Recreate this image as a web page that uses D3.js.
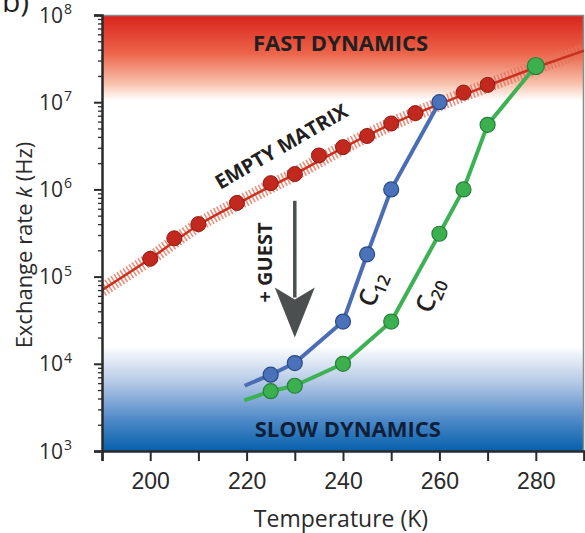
<!DOCTYPE html>
<html>
<head>
<meta charset="utf-8">
<script src="https://cdn.jsdelivr.net/npm/d3@7"></script>
<style>
  body { margin: 0; background: #fff; }
  svg { display: block; font-family: "Open Sans", sans-serif; }
  .axis path, .axis line { stroke: #2a2a2a; }
  .axis text { fill: #2a2a2a; }
</style>
</head>
<body>
<div id="chart"></div>
<script>
// data (temperature in K, rate in Hz)
var emptyT = [200, 205, 210, 218, 225, 230, 235, 240, 245, 250, 255, 265, 270];
var emptyK = [1.6e5, 2.75e5, 4.0e5, 7.0e5, 1.18e6, 1.5e6, 2.45e6, 3.05e6, 4.1e6, 5.7e6, 7.5e6, 1.29e7, 1.58e7];
var fitT = [190, 200, 210, 220, 230, 240, 250, 260, 270, 280, 290];
var fitK = [7.0e4, 1.6e5, 3.9e5, 7.8e5, 1.5e6, 3.0e6, 5.6e6, 9.5e6, 1.55e7, 2.5e7, 3.9e7];
var c12T = [225, 230, 240, 245, 250, 260];
var c12K = [7.5e3, 1.02e4, 3.05e4, 1.8e5, 1.0e6, 1.0e7];
var c12Tail = [219.6, 5.6e3];  // line start, no marker
var c20T = [225, 230, 240, 250, 260, 265, 270, 280];
var c20K = [4.85e3, 5.6e3, 1.0e4, 3.05e4, 3.1e5, 1.0e6, 5.5e6, 2.6e7];
var c20Tail = [219.5, 3.8e3];
var xTicks = [200, 220, 240, 260, 280];
var xMinor = [190, 200, 210, 220, 230, 240, 250, 260, 270, 280, 290];
var yTicks = [3, 4, 5, 6, 7, 8];  // powers of ten

var width = 585, height = 533;
var margin = {top: 15, right: 1, bottom: 82, left: 102};
var w = width - margin.left - margin.right;
var h = height - margin.top - margin.bottom;

var x = d3.scaleLinear().domain([190, 290]).range([0, w]);
var y = d3.scaleLog().domain([1e3, 1e8]).range([h, 0]);

var svg = d3.select("#chart").append("svg").attr("width", width).attr("height", height);
var defs = svg.append("defs");

// background gradients
var red = defs.append("linearGradient").attr("id", "fastgrad").attr("x1", 0).attr("x2", 0).attr("y1", 0).attr("y2", 1);
red.append("stop").attr("offset", "0%").attr("stop-color", "#d8221a");
red.append("stop").attr("offset", "45%").attr("stop-color", "#ec654a");
red.append("stop").attr("offset", "80%").attr("stop-color", "#f8c0aa");
red.append("stop").attr("offset", "100%").attr("stop-color", "#ffffff");
var blue = defs.append("linearGradient").attr("id", "slowgrad").attr("x1", 0).attr("x2", 0).attr("y1", 0).attr("y2", 1);
blue.append("stop").attr("offset", "0%").attr("stop-color", "#ffffff");
blue.append("stop").attr("offset", "35%").attr("stop-color", "#b4c8e6");
blue.append("stop").attr("offset", "70%").attr("stop-color", "#4f8ac8");
blue.append("stop").attr("offset", "100%").attr("stop-color", "#0660ab");

var g = svg.append("g").attr("transform", "translate(" + margin.left + "," + margin.top + ")");

defs.append("clipPath").attr("id", "clipper")
  .append("rect").attr("x", 0).attr("y", 0).attr("width", w).attr("height", h);

g.append("rect").attr("x", 0).attr("y", 0).attr("width", w).attr("height", y(1.05e7))
  .attr("fill", "url(#fastgrad)");
g.append("rect").attr("x", 0).attr("y", y(1.6e4)).attr("width", w).attr("height", h - y(1.6e4))
  .attr("fill", "url(#slowgrad)");

// top/right frame
g.append("path").attr("d", "M0,0.5H" + (w - 0.5) + "V" + h)
  .attr("fill", "none").attr("stroke", "#8a8a8a").attr("stroke-width", 1.5);

var plot = g.append("g").attr("clip-path", "url(#clipper)");

var smooth = d3.line().curve(d3.curveMonotoneX)
  .x(function(d) { return x(d[0]); }).y(function(d) { return y(d[1]); });
var straight = d3.line()
  .x(function(d) { return x(d[0]); }).y(function(d) { return y(d[1]); });
var fitData = fitT.map(function(t, i) { return [t, fitK[i]]; });

// hatched band for the empty matrix fit
plot.append("path").attr("d", smooth(fitData))
  .attr("fill", "none").attr("stroke", "#e2735c").attr("stroke-width", 14)
  .attr("stroke-dasharray", "1.6,2").attr("opacity", 0.8);
plot.append("path").attr("d", smooth(fitData))
  .attr("fill", "none").attr("stroke", "#c8301f").attr("stroke-width", 2.5);

// guest arrow
var ax = x(230), ay0 = y(7.4e5), ayb = y(7.5e4), ayt = y(2.0e4);
g.append("line").attr("x1", ax).attr("x2", ax).attr("y1", ay0).attr("y2", ayb + 10)
  .attr("stroke", "#4b4f50").attr("stroke-width", 3.5);
g.append("path")
  .attr("d", "M" + ax + "," + ayt + "L" + (ax - 20) + "," + ayb + "L" + ax + "," + (ayb + 12) +
    "L" + (ax + 20) + "," + ayb + "Z")
  .attr("fill", "#4b4f50");

// series lines
var c12Data = [c12Tail].concat(c12T.map(function(t, i) { return [t, c12K[i]]; }));
var c20Data = [c20Tail].concat(c20T.map(function(t, i) { return [t, c20K[i]]; }));
plot.append("path").attr("d", straight(c12Data))
  .attr("fill", "none").attr("stroke", "#4a6db4").attr("stroke-width", 4).attr("stroke-linejoin", "round");
plot.append("path").attr("d", straight(c20Data))
  .attr("fill", "none").attr("stroke", "#3db153").attr("stroke-width", 4).attr("stroke-linejoin", "round");

// markers
plot.selectAll("circle.empty").data(emptyT).enter().append("circle")
  .attr("class", "empty")
  .attr("cx", function(d) { return x(d); })
  .attr("cy", function(d, i) { return y(emptyK[i]); })
  .attr("r", 7.5).attr("fill", "#c2281d").attr("stroke", "#8e1c14").attr("stroke-width", 1);
plot.selectAll("circle.c12").data(c12T).enter().append("circle")
  .attr("class", "c12")
  .attr("cx", function(d) { return x(d); })
  .attr("cy", function(d, i) { return y(c12K[i]); })
  .attr("r", 7.5).attr("fill", "#4a72bb").attr("stroke", "#2b4a85").attr("stroke-width", 1.2);
plot.selectAll("circle.c20").data(c20T).enter().append("circle")
  .attr("class", "c20")
  .attr("cx", function(d) { return x(d); })
  .attr("cy", function(d, i) { return y(c20K[i]); })
  .attr("r", function(d) { return d == 280 ? 8.5 : 7.5; })
  .attr("fill", "#3cb04f").attr("stroke", "#27803a").attr("stroke-width", 1.2);

// annotations
g.append("text").attr("x", x(239.5)).attr("y", y(3.9e7)).attr("text-anchor", "middle")
  .attr("font-size", 22).attr("font-weight", "bold").attr("fill", "#231f20").text("FAST DYNAMICS");
g.append("text").attr("x", x(241)).attr("y", y(1.45e3)).attr("text-anchor", "middle")
  .attr("font-size", 22).attr("font-weight", "bold").attr("fill", "#0f1f3a").text("SLOW DYNAMICS");
g.append("text").attr("text-anchor", "middle").attr("font-size", 20).attr("font-weight", "bold")
  .attr("fill", "#231f20")
  .attr("transform", "translate(" + x(227.2) + "," + y(3.1e6) + ") rotate(-30)")
  .attr("dy", "0.35em").text("EMPTY MATRIX");
g.append("text").attr("text-anchor", "middle").attr("font-size", 20).attr("font-weight", "bold")
  .attr("fill", "#231f20")
  .attr("transform", "translate(" + x(223.8) + "," + y(1.45e5) + ") rotate(-90)")
  .attr("dy", "0.35em").text("+ GUEST");

var c12lab = g.append("text").attr("text-anchor", "middle").attr("fill", "#231f20")
  .attr("transform", "translate(" + x(246.6) + "," + y(7.0e4) + ") rotate(-68)")
  .attr("dy", "0.35em");
c12lab.append("tspan").attr("font-size", 25).attr("font-weight", 600).text("C");
c12lab.append("tspan").attr("font-size", 17).attr("font-weight", 600).attr("dy", 5).text("12");
var c20lab = g.append("text").attr("text-anchor", "middle").attr("fill", "#231f20")
  .attr("transform", "translate(" + x(258.5) + "," + y(6.0e4) + ") rotate(-68)")
  .attr("dy", "0.35em");
c20lab.append("tspan").attr("font-size", 25).attr("font-weight", 600).text("C");
c20lab.append("tspan").attr("font-size", 17).attr("font-weight", 600).attr("dy", 5).text("20");

// x axis
var xAxisMinor = d3.axisBottom(x).tickValues(xMinor).tickSize(10).tickFormat("");
var xAxis = d3.axisBottom(x).tickValues(xTicks).tickSize(0).tickPadding(22).tickFormat(d3.format("d"));
g.append("g").attr("class", "axis").attr("transform", "translate(0," + h + ")").call(xAxisMinor)
  .call(function(s) { s.selectAll("line").attr("stroke-width", 2); s.select(".domain").attr("stroke-width", 2.5); });
g.append("g").attr("class", "axis").attr("transform", "translate(0," + h + ")").call(xAxis)
  .call(function(s) { s.select(".domain").remove(); s.selectAll("text").attr("font-size", 23); });

// y axis: decade ticks + minor log ticks
var yMinor = [];
yTicks.slice(0, -1).forEach(function(p) {
  for (var m = 2; m <= 9; m++) yMinor.push(m * Math.pow(10, p));
});
g.append("g").attr("class", "axis")
  .call(d3.axisLeft(y).tickValues(yMinor).tickSize(4).tickFormat(""))
  .call(function(s) { s.select(".domain").remove(); s.selectAll("line").attr("stroke-width", 1.3); });
var yAxis = g.append("g").attr("class", "axis")
  .call(d3.axisLeft(y).tickValues(yTicks.map(function(p) { return Math.pow(10, p); })).tickSize(8).tickFormat(""))
  .call(function(s) { s.selectAll("line").attr("stroke-width", 2); s.select(".domain").attr("stroke-width", 2.5); });

yTicks.forEach(function(p) {
  var t = g.append("text").attr("x", -30).attr("y", y(Math.pow(10, p)) + 7.5)
    .attr("text-anchor", "end").attr("font-size", 21).attr("fill", "#2a2a2a");
  t.append("tspan").text("10");
  t.append("tspan").attr("font-size", 14).attr("dy", -8.5).attr("dx", 1).text(p);
});

// axis titles
svg.append("text").attr("x", margin.left + x(240) - 2).attr("y", 527).attr("text-anchor", "middle")
  .attr("font-size", 23).attr("fill", "#2a2a2a").text("Temperature (K)");
var ytitle = svg.append("text").attr("text-anchor", "middle").attr("font-size", 22).attr("fill", "#2a2a2a")
  .attr("transform", "translate(32," + (margin.top + y(2.3e5)) + ") rotate(-90)");
ytitle.append("tspan").text("Exchange rate ");
ytitle.append("tspan").attr("font-style", "italic").text("k");
ytitle.append("tspan").text(" (Hz)");

// panel letter, cut at the top edge
svg.append("text").attr("x", 2).attr("y", 12).attr("font-size", 30).attr("fill", "#231f20").text("b)");
</script>
</body>
</html>
